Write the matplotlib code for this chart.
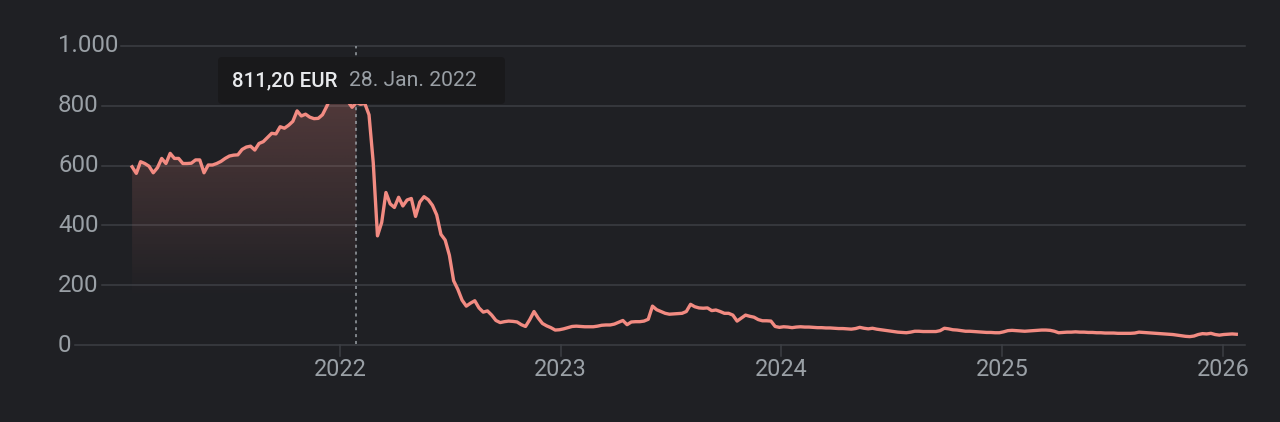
import matplotlib
matplotlib.use("Agg")
import matplotlib.pyplot as plt
import matplotlib.dates as mdates
import matplotlib.transforms as mtransforms
from matplotlib.colors import to_rgb
from matplotlib.patches import FancyBboxPatch
import numpy as np
import pandas as pd

# weekly closing prices (EUR), first week 22 Jan 2021
prices_2021 = [
    596, 574, 613, 607, 598, 576, 593, 624, 607, 641,
    624, 624, 607, 607, 608, 619, 619, 576, 602, 602,
    607, 614, 624, 632, 635, 636, 654, 662, 665, 652,
    674, 680, 694, 708, 706, 730, 725, 735, 748, 783,
    766, 772, 762, 757, 758, 770, 798, 830, 850, 845,
]
prices_2022 = [
    830, 815, 795, 811.2, 805, 808, 770, 610, 365, 410,
    510, 472, 460, 494, 465, 485, 490, 430, 478, 496,
    486, 467, 435, 370, 351, 300, 215, 186, 150, 130,
    140, 148, 124, 110, 114, 100, 82, 75, 78, 80,
    79, 77, 68, 62, 85, 112, 90, 72, 64, 58,
    50, 51,
]
prices_2023 = [
    54, 58, 62, 63, 62, 61, 61, 61, 63, 66,
    67, 67, 70, 76, 82, 68, 77, 78, 78, 80,
    86, 130, 118, 112, 106, 103, 104, 105, 106, 112,
    136, 128, 124, 123, 124, 115, 117, 112, 106, 106,
    100, 80, 90, 100, 96, 93, 85, 81, 81, 80,
    62, 59,
]
prices_2024 = [
    61, 60, 58, 60, 61, 60, 60, 59, 58, 58,
    57, 57, 56, 55, 55, 54, 53, 55, 59, 56,
    54, 56, 53, 51, 49, 47, 45, 43, 42, 41,
    43, 46, 46, 45, 45, 45, 45, 48, 56, 54,
    51, 50, 48, 46, 46, 45, 44, 43, 42, 42,
    41, 41,
]
prices_2025 = [
    44, 48, 49, 48, 47, 46, 47, 48, 49, 50,
    50, 49, 46, 41, 42, 43, 43, 44, 43, 43,
    42, 42, 41, 41, 40, 40, 40, 39, 39, 39,
    39, 40, 43, 42, 41, 40, 39, 38, 37, 36,
    35, 33, 31, 29, 28, 30, 35, 38, 37, 39,
    35, 33, 35, 36, 37, 36,
]
prices = np.array(prices_2021 + prices_2022 + prices_2023 + prices_2024 + prices_2025)
dates = pd.date_range("2021-01-22", periods=len(prices), freq="7D")

y_ticks = [0, 200, 400, 600, 800, 1000]
y_tick_labels = ["0", "200", "400", "600", "800", "1.000"]
x_years = [2022, 2023, 2024, 2025, 2026]

hover_date = pd.Timestamp("2022-01-28")
hover_label = "811,20 EUR"
hover_date_label = "28. Jan. 2022"

BG = "#1f2024"
GRID = "#3c3f44"
LABEL = "#9aa0a6"
LINE = "#f28b82"

plt.rcParams["font.family"] = ["Roboto", "DejaVu Sans"]

W, H = 1280, 422
fig = plt.figure(figsize=(W / 100, H / 100), dpi=100, facecolor=BG)
ax = fig.add_axes([0, 0, 1, 1])
ax.set_facecolor(BG)
ax.axis("off")

# price line
ax.plot(dates, prices, color=LINE, linewidth=2.4, solid_joinstyle="round", zorder=4)

# pixel layout of the plot area
px_2022, px_2026 = 340, 1223
d2022 = mdates.date2num(pd.Timestamp("2022-01-01"))
d2026 = mdates.date2num(pd.Timestamp("2026-01-01"))
ppd = (px_2026 - px_2022) / (d2026 - d2022)
xlim = (d2022 - px_2022 / ppd, d2022 + (W - px_2022) / ppd)
zero_px, top_px = 345, 46
ppu = (zero_px - top_px) / 1000.0
ylim = (-(H - zero_px) / ppu, zero_px / ppu)

# gradient under the line up to the hovered point
hover_idx = int(np.where(dates == hover_date)[0][0])
fill = ax.fill_between(dates[: hover_idx + 1], prices[: hover_idx + 1], 0,
                       facecolor="none", edgecolor="none")
n = 256
vals = np.linspace(0, 900, n)
rgba = np.zeros((n, 1, 4))
rgba[..., :3] = to_rgb(LINE)
rgba[:, 0, 3] = np.clip((vals - 150) / 700.0, 0, 1) * 0.25
x0 = mdates.date2num(dates[0])
x1 = mdates.date2num(dates[hover_idx])
im = ax.imshow(rgba, extent=[x0, x1, 0, 900], origin="lower", aspect="auto", zorder=2)
im.set_clip_path(fill.get_paths()[0], ax.transData)

ax.set_xlim(*xlim)
ax.set_ylim(*ylim)

# y labels and gridlines starting right after each label
ytrans = mtransforms.blended_transform_factory(ax.transAxes, ax.transData)
labels = []
for v, lab in zip(y_ticks, y_tick_labels):
    t = ax.text(58 / W, v, lab, transform=ytrans, ha="left", va="center",
                color=LABEL, fontsize=17.3)
    labels.append((v, t))
fig.canvas.draw()
renderer = fig.canvas.get_renderer()
for v, t in labels:
    bb = t.get_window_extent(renderer)
    ax.plot([(bb.x1 + 3) / W, 1245 / W], [v, v], transform=ytrans,
            color=GRID, linewidth=1.1, zorder=1)

# x ticks
for yr in x_years:
    d = mdates.date2num(pd.Timestamp(f"{yr}-01-01"))
    ax.plot([d, d], [0, -11 / ppu], color=GRID, linewidth=1.1, zorder=1)
    ax.text(d, -(369 - zero_px) / ppu, str(yr), ha="center", va="center",
            color=LABEL, fontsize=16.8)

# hover marker
ax.vlines(hover_date, 5, 1000, colors=LABEL, linestyles=(0, (2, 2.5)),
          linewidth=1.1, zorder=3)

# tooltip
box = FancyBboxPatch((218, H - 104), 287, 47, boxstyle="round,pad=0,rounding_size=4",
                     transform=mtransforms.IdentityTransform(),
                     facecolor="#19191b", edgecolor="none", zorder=10)
fig.patches.append(box)
fig.text(232 / W, 1 - 81 / H, hover_label, ha="left", va="center",
         color="#e8eaed", fontsize=14.8, fontweight="medium", zorder=11)
fig.text(349 / W, 1 - 81 / H, hover_date_label, ha="left", va="center",
         color=LABEL, fontsize=15.2, zorder=11)

fig.savefig("out.png", dpi=100, facecolor=BG)
